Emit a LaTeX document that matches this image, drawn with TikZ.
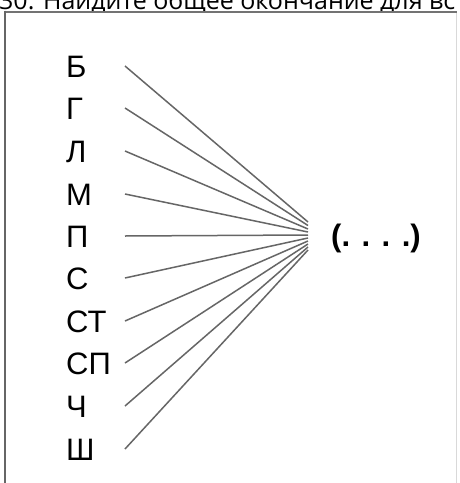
\documentclass[tikz,border=0pt]{standalone}
\usepackage{fontspec}
\setmainfont{Liberation Sans}
\newfontfamily\headfont{Open Sans}
\usetikzlibrary{positioning}

\begin{document}
\begin{tikzpicture}[x=1pt,y=-1pt]
  \tikzstyle{letter}=[anchor=west,inner sep=0pt,text height=22pt,text depth=0pt,font=\fontsize{31}{33}\selectfont]
  \tikzstyle{spoke}=[draw=black!60,line width=1.5pt]
  \useasboundingbox[fill=white] (0,0) rectangle (460,483);
  % cut-off heading above the frame
  \begin{scope}
    \clip (0,0) rectangle (460,10);
    \node[anchor=base west,inner sep=0pt,font=\headfont\fontsize{25}{27}\selectfont] (head) at (-1,9) {30. Найдите общее окончание для вс};
  \end{scope}
  % frame
  \draw[black!15,line width=1pt] (456,12) -- (456,483);
  \draw[black!55,line width=2pt] (5,11.5) -- (457,11.5);
  \draw[black!60,line width=2.5pt] (5,10.5) -- (5,483);
  % letters and spokes
  \foreach \nm/\txt/\y/\e in {b/Б/66/222,g/Г/108/225.5,l/Л/151/229,m/М/194/232,p/П/236/235,
                             s/С/278/238,st/СТ/321/241,sp/СП/363/244,ch/Ч/406/247,sh/Ш/449/250}{
    \node[letter] (\nm) at (66,\y) {\txt};
    \coordinate (\nm-in) at (125,\y);
    \coordinate (\nm-out) at (308,\e);
    \draw[spoke] (\nm-in) -- (\nm-out);
  }
  \node[font=\bfseries\fontsize{31}{33}\selectfont,inner sep=0pt] (ending) at (376,238) {(. . . .)};
\end{tikzpicture}
\end{document}
